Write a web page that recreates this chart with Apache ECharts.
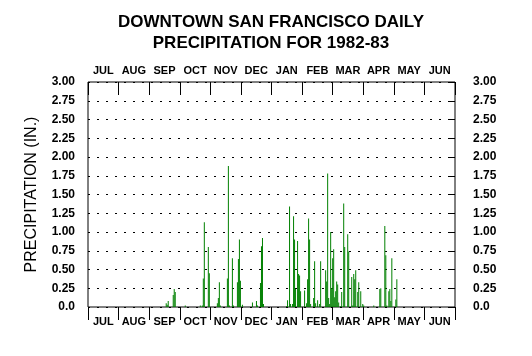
<!DOCTYPE html>
<html>
<head>
<meta charset="utf-8">
<script src="https://cdn.jsdelivr.net/npm/echarts@6/dist/echarts.min.js"></script>
<style>
html,body{margin:0;padding:0;background:#fff;}
#chart{width:532px;height:356px;}
</style>
</head>
<body>
<div id="chart"></div>
<script>
var titleText = 'DOWNTOWN SAN FRANCISCO DAILY\nPRECIPITATION FOR 1982-83';
var yAxisTitle = 'PRECIPITATION (IN.)';
var months = ['JUL','AUG','SEP','OCT','NOV','DEC','JAN','FEB','MAR','APR','MAY','JUN'];
var yearStart = '1982-07-01';
var yearEnd = '1983-07-01';

var rainDates = [
 '1982-09-16','1982-09-17','1982-09-18','1982-09-23','1982-09-24','1982-09-25',
 '1982-10-05','1982-10-20','1982-10-22','1982-10-23','1982-10-24','1982-10-28','1982-10-29',
 '1982-11-06','1982-11-07','1982-11-08','1982-11-09','1982-11-16','1982-11-17','1982-11-18',
 '1982-11-21','1982-11-22','1982-11-26','1982-11-27','1982-11-28','1982-11-29',
 '1982-12-01','1982-12-11','1982-12-15','1982-12-16','1982-12-19','1982-12-20','1982-12-21','1982-12-22',
 '1983-01-14','1983-01-15','1983-01-17','1983-01-18','1983-01-20','1983-01-21','1983-01-22','1983-01-23',
 '1983-01-25','1983-01-26','1983-01-27','1983-01-28',
 '1983-02-01','1983-02-03','1983-02-04','1983-02-05','1983-02-06','1983-02-07','1983-02-10','1983-02-11',
 '1983-02-12','1983-02-14','1983-02-16','1983-02-17','1983-02-22','1983-02-23','1983-02-24','1983-02-25',
 '1983-02-26','1983-02-27','1983-02-28',
 '1983-03-01','1983-03-02','1983-03-03','1983-03-04','1983-03-05','1983-03-06','1983-03-07','1983-03-09',
 '1983-03-10','1983-03-12','1983-03-13','1983-03-16','1983-03-17','1983-03-20','1983-03-21','1983-03-22',
 '1983-03-23','1983-03-24','1983-03-26','1983-03-27','1983-03-29','1983-03-31',
 '1983-04-01','1983-04-11','1983-04-17','1983-04-18','1983-04-22','1983-04-23','1983-04-24','1983-04-26',
 '1983-04-27','1983-04-28','1983-04-29','1983-05-03','1983-05-04'
];
var rainInches = [
 0.05,0.03,0.08,0.16,0.24,0.20,
 0.02,0.02,0.02,0.38,1.13,0.80,0.45,
 0.05,0.12,0.33,0.02,0.38,1.88,0.02,
 0.65,0.02,0.33,0.64,0.90,0.35,
 0.03,0.06,0.08,0.02,0.32,0.81,0.92,0.04,
 0.01,0.09,1.34,0.04,0.04,1.21,0.90,0.24,
 0.88,0.44,0.42,0.21,
 0.22,0.05,0.37,1.18,0.90,0.04,0.12,0.61,
 0.05,0.09,0.04,0.61,0.49,0.34,1.78,0.12,
 0.04,1.00,0.25,
 0.65,0.77,0.13,0.21,0.34,0.30,0.06,0.01,
 0.20,1.38,0.80,0.97,0.74,0.40,0.02,0.44,
 0.37,0.49,0.20,0.33,0.21,0.04,
 0.02,0.02,0.24,0.25,1.08,0.69,0.02,0.21,
 0.24,0.08,0.65,0.10,0.37
];

var seriesData = rainDates.map(function(d, i){ return [d + ' 12:00', rainInches[i]]; });

var chart = echarts.init(document.getElementById('chart'), null, {renderer:'canvas'});
var fontFam = '"Liberation Sans", Arial, sans-serif';
function yFmt(v){ return v === 0 ? '0.0' : v.toFixed(2); }

chart.setOption({
  animation: false,
  backgroundColor: '#ffffff',
  title: {
    text: titleText,
    left: 266, top: 7, textAlign: 'center',
    textStyle: {fontFamily: fontFam, fontSize: 17, fontWeight: 'bold', color: '#000', lineHeight: 21}
  },
  grid: {left: 88, right: 77, top: 82, bottom: 49, show: true, borderColor: '#000', borderWidth: 1, backgroundColor: 'transparent'},
  xAxis: [
    {type: 'time', min: yearStart, max: yearEnd, show: false},
    {type: 'category', data: months, position: 'bottom', boundaryGap: true,
     axisLine: {show: false},
     axisTick: {show: true, inside: false, length: 13, interval: 0, lineStyle: {color: '#000'}},
     axisLabel: {interval: 0, margin: 9, color: '#000', fontFamily: fontFam, fontSize: 11, fontWeight: 'bold'},
     splitLine: {show: false}},
    {type: 'category', data: months, position: 'top', boundaryGap: true,
     axisLine: {show: false},
     axisTick: {show: true, inside: true, length: 13, interval: 0, lineStyle: {color: '#000'}},
     axisLabel: {interval: 0, margin: 6, color: '#000', fontFamily: fontFam, fontSize: 11, fontWeight: 'bold'},
     splitLine: {show: false}}
  ],
  yAxis: [
    {type: 'value', min: 0, max: 3, interval: 0.25, position: 'left',
     name: yAxisTitle, nameLocation: 'middle', nameGap: 48,
     nameTextStyle: {fontFamily: fontFam, fontSize: 16, color: '#000'},
     axisLine: {show: false}, axisTick: {show: false},
     axisLabel: {formatter: yFmt, margin: 13, color: '#000', fontFamily: fontFam, fontSize: 12, fontWeight: 'bold'},
     splitLine: {show: true, lineStyle: {color: '#000', width: 1, type: [2, 7]}}},
    {type: 'value', min: 0, max: 3, interval: 0.25, position: 'right',
     axisLine: {show: false},
     axisTick: {show: true, inside: true, length: 7, lineStyle: {color: '#000'}},
     axisLabel: {formatter: yFmt, margin: 18, color: '#000', fontFamily: fontFam, fontSize: 12, fontWeight: 'bold'},
     splitLine: {show: false}}
  ],
  series: [{
    type: 'bar', xAxisIndex: 0, yAxisIndex: 0,
    data: seriesData, barWidth: 1,
    itemStyle: {color: '#008000'}
  }]
});
</script>
</body>
</html>
